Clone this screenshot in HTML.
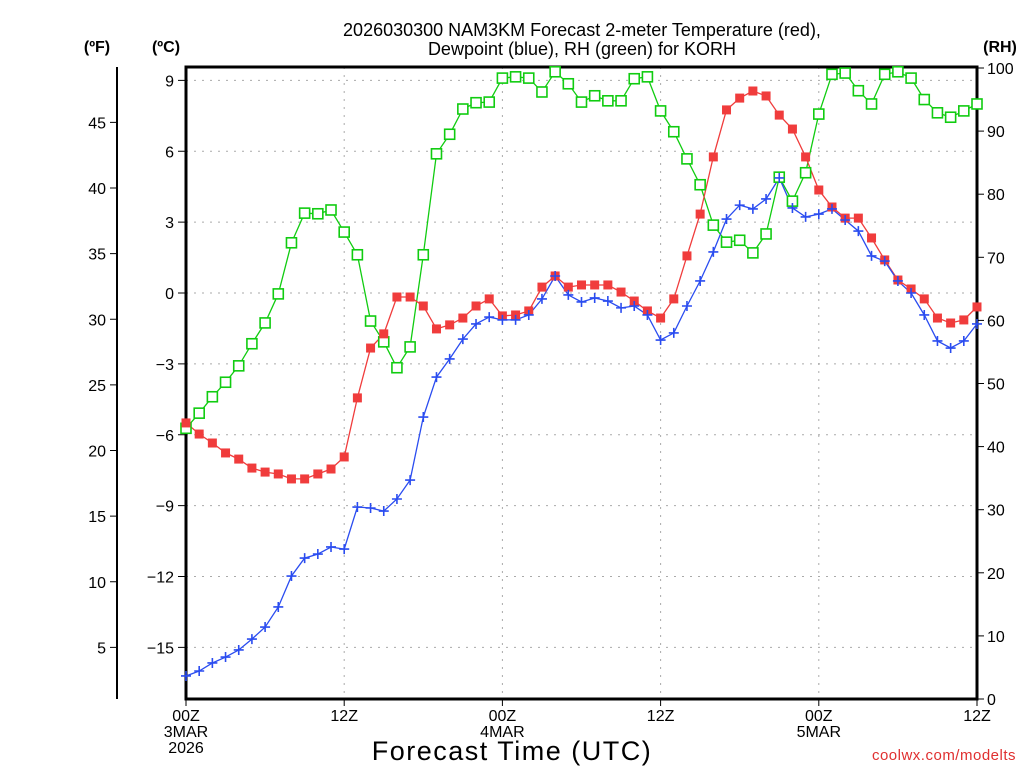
<!DOCTYPE html>
<html><head><meta charset="utf-8"><style>
html,body{margin:0;padding:0;background:#fff;}
svg{display:block;font-family:"Liberation Sans","DejaVu Sans",sans-serif;}
</style></head><body>
<svg id="chart" width="1024" height="768" viewBox="0 0 1024 768" xmlns="http://www.w3.org/2000/svg">
<text x="582" y="36" font-size="18" text-anchor="middle">2026030300 NAM3KM Forecast 2-meter Temperature (red),</text>
<text x="582" y="55" font-size="18" text-anchor="middle">Dewpoint (blue), RH (green) for KORH</text>
<text x="97" y="52" font-size="16" font-weight="bold" text-anchor="middle">(ºF)</text>
<text x="166" y="52" font-size="16" font-weight="bold" text-anchor="middle">(ºC)</text>
<text x="1000" y="52" font-size="16" font-weight="bold" text-anchor="middle">(RH)</text>
<text x="512" y="760" font-size="27" text-anchor="middle" letter-spacing="1.5">Forecast Time (UTC)</text>
<text x="1016" y="760" font-size="15" fill="#e03030" text-anchor="end" letter-spacing="0.5">coolwx.com/modelts</text>
<g id="grid"></g><g id="axes"></g><g id="series"></g>
</svg>
<script>
const hours = Array.from({length:61},(_,i)=>i);
const tempC = [-5.50,-5.97,-6.35,-6.77,-7.03,-7.41,-7.58,-7.66,-7.87,-7.87,
-7.66,-7.45,-6.94,-4.44,-2.33,-1.73,-0.17,-0.17,-0.55,-1.52,
-1.35,-1.06,-0.55,-0.25,-0.97,-0.93,-0.76,0.25,0.72,0.25,
0.34,0.34,0.34,0.04,-0.34,-0.76,-1.06,-0.25,1.57,3.34,
5.76,7.75,8.25,8.55,8.34,7.53,6.94,5.76,4.36,3.64,
3.17,3.17,2.33,1.40,0.55,0.17,-0.25,-1.06,-1.27,-1.14,-0.59];
const dewC = [-16.21,-16.0,-15.66,-15.41,-15.11,-14.65,-14.14,-13.29,-11.98,-11.22,
-11.05,-10.75,-10.84,-9.06,-9.10,-9.23,-8.72,-7.92,-5.25,-3.56,
-2.79,-1.95,-1.31,-1.02,-1.14,-1.14,-0.93,-0.25,0.72,-0.08,
-0.38,-0.21,-0.34,-0.63,-0.55,-0.93,-1.99,-1.69,-0.55,0.51,
1.74,3.13,3.72,3.56,3.98,4.87,3.60,3.22,3.34,3.56,
3.09,2.62,1.57,1.35,0.51,0.0,-0.93,-2.03,-2.33,-2.03,-1.31];
const rh = [42.9,45.3,47.9,50.2,52.8,56.3,59.6,64.2,72.3,77.0,
76.9,77.5,74.0,70.4,59.9,56.6,52.5,55.8,70.4,86.4,
89.5,93.5,94.5,94.6,98.4,98.6,98.4,96.2,99.4,97.5,
94.6,95.6,94.8,94.8,98.3,98.6,93.2,89.9,85.6,81.5,
75.1,72.4,72.7,70.7,73.7,82.7,78.9,83.4,92.7,99.0,
99.2,96.4,94.3,99.0,99.4,98.4,95.0,92.9,92.2,93.2,94.3];
const cTicks = [9,6,3,0,-3,-6,-9,-12,-15];
const fTicks = [45,40,35,30,25,20,15,10,5];
const rhTicks = [100,90,80,70,60,50,40,30,20,10,0];
const xTickHours = [0,12,24,36,48,60];
const xTickLabels = [["00Z","3MAR","2026"],["12Z"],["00Z","4MAR"],["12Z"],["00Z","5MAR"],["12Z"]];

const L=186,R=977,T=67,B=699;
const xs=h=>L+(R-L)*h/60;
const yC=c=>293-(c*567/24);
const yF=f=>yC((f-32)/1.8);
const yRH=r=>B-(B-68)*r/100;
const NS="http://www.w3.org/2000/svg";
function mk(tag,attrs,parent){const e=document.createElementNS(NS,tag);for(const k in attrs)e.setAttribute(k,attrs[k]);parent.appendChild(e);return e;}
const grid=document.getElementById('grid'),axes=document.getElementById('axes'),ser=document.getElementById('series');

cTicks.forEach(c=>{const y=yC(c);
 const g=mk('line',{x1:L,x2:R,y1:y,y2:y,stroke:'#aaa','stroke-dasharray':'2 6'},grid);
 
 
 mk('line',{x1:L-8,x2:L,y1:y,y2:y,stroke:'#000'},axes);
 const t=mk('text',{x:L-12,y:y+6,'font-size':'16','text-anchor':'end'},axes);t.textContent=(c<0?'\u2212'+(-c):c);
 
 
});
xTickHours.forEach((h,i)=>{const x=xs(h);
 if(h>0&&h<60){const g=mk('line',{x1:x,x2:x,y1:T,y2:B,stroke:'#aaa','stroke-dasharray':'2 6'},grid);
 
 }
 mk('line',{x1:x,x2:x,y1:B,y2:B+7,stroke:'#000'},axes);
 xTickLabels[i].forEach((s,j)=>{const t=mk('text',{x:x,y:B+22+j*16,'font-size':'16','text-anchor':'middle'},axes);t.textContent=s;
 
 });
});
fTicks.forEach(f=>{const y=yF(f);
 mk('line',{x1:110,x2:117,y1:y,y2:y,stroke:'#000'},axes);
 const t=mk('text',{x:106,y:y+6,'font-size':'16','text-anchor':'end'},axes);t.textContent=f;
 
 
});
rhTicks.forEach(r=>{const y=yRH(r);
 mk('line',{x1:R,x2:R+7,y1:y,y2:y,stroke:'#000'},axes);
 const t=mk('text',{x:R+10,y:y+6,'font-size':'16','text-anchor':'start'},axes);t.textContent=r;
 
 
});
const fa=mk('line',{x1:117,x2:117,y1:67,y2:699,stroke:'#000','stroke-width':2},axes);


const box=mk('rect',{x:L,y:T,width:R-L,height:B-T,fill:'none',stroke:'#000','stroke-width':3},axes);



function line(vals,yf,color,name){
 const pts=vals.map((v,i)=>xs(hours[i]).toFixed(1)+','+yf(v).toFixed(1)).join(' ');
 const p=mk('polyline',{points:pts,fill:'none',stroke:color,'stroke-width':1.3},ser);
 
 
}
line(rh,yRH,'#10cc10','rh');
line(tempC,yC,'#f03c3c','temperature');
line(dewC,yC,'#2a4cf0','dewpoint');
rh.forEach((v,i)=>{const x=xs(hours[i]),y=yRH(v);
 const m=mk('rect',{x:x-5,y:y-5,width:10,height:10,fill:'#fff',stroke:'#10cc10','stroke-width':1.6},ser);
 
 
});
tempC.forEach((v,i)=>{const x=xs(hours[i]),y=yC(v);
 const m=mk('rect',{x:x-4.5,y:y-4.5,width:9,height:9,fill:'#f03c3c'},ser);
 
 
});
dewC.forEach((v,i)=>{const x=xs(hours[i]),y=yC(v);
 const m=mk('path',{d:`M${x-5},${y}H${x+5}M${x},${y-5}V${y+5}`,stroke:'#2a4cf0','stroke-width':1.6,fill:'none'},ser);
 
 
});
</script>
</body></html>
